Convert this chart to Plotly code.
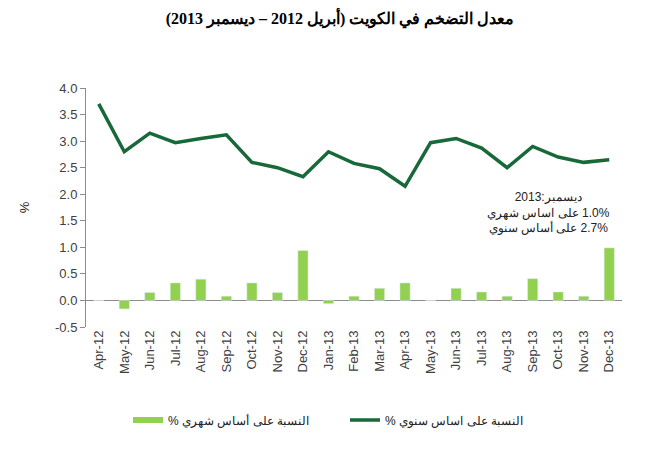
import plotly.graph_objects as go

months = ["Apr-12", "May-12", "Jun-12", "Jul-12", "Aug-12", "Sep-12", "Oct-12",
          "Nov-12", "Dec-12", "Jan-13", "Feb-13", "Mar-13", "Apr-13", "May-13",
          "Jun-13", "Jul-13", "Aug-13", "Sep-13", "Oct-13", "Nov-13", "Dec-13"]
monthly = [0.0, -0.16, 0.15, 0.33, 0.40, 0.08, 0.33, 0.15, 0.94, -0.06, 0.08,
           0.23, 0.33, 0.0, 0.23, 0.16, 0.08, 0.41, 0.16, 0.08, 0.99]
annual = [3.70, 2.80, 3.15, 2.97, 3.05, 3.12, 2.60, 2.50, 2.33, 2.80, 2.58,
          2.48, 2.15, 2.97, 3.05, 2.87, 2.50, 2.90, 2.70, 2.60, 2.65]
y_ticks = [-0.5, 0.0, 0.5, 1.0, 1.5, 2.0, 2.5, 3.0, 3.5, 4.0]
y_tick_labels = ["-0.5", "0.0", "0.5", "1.0", "1.5", "2.0", "2.5", "3.0", "3.5", "4.0"]

LRM = "\u200E"

name_monthly = "% النسبة على أساس شهري"
name_annual = "% النسبة على اساس سنوي"
title_text = "معدل التضخم في الكويت (أبريل 2012 – ديسمبر 2013)"
note_lines = [
    "ديسمبر:2013",
    "على اساس شهري" + LRM + " 1.0%",
    "على أساس سنوي" + LRM + " 2.7%",
]

bar_color = "#92D050"
line_color = "#17693A"
txt_color = "#404040"

fig = go.Figure()
fig.add_trace(go.Bar(x=months, y=monthly, marker_color=bar_color, showlegend=False,
                     name=name_monthly))
fig.add_trace(go.Scatter(x=[None], y=[None], mode="lines", name=name_monthly,
                         line=dict(color=bar_color, width=6)))
fig.add_trace(go.Scatter(x=months, y=annual, mode="lines", name=name_annual,
                         line=dict(color=line_color, width=3.5)))

fig.add_annotation(text="<br>".join(note_lines), xref="paper", yref="paper",
                   x=(612 - 86) / 536, y=1 - (212 - 88) / 239, showarrow=False,
                   align="center", font=dict(family="Liberation Sans", size=12, color="#222"))

fig.update_layout(
    width=647, height=450,
    margin=dict(l=86, r=25, t=88, b=123),
    paper_bgcolor="white", plot_bgcolor="white",
    bargap=0.6,
    title=dict(text="<b>" + title_text + "</b>", x=340 / 647, xanchor="center",
               y=1 - 18 / 450, yanchor="middle",
               font=dict(family="Liberation Serif", size=16, color="black")),
    legend=dict(orientation="h", xref="container", yref="container",
                x=128 / 647, y=1 - 420 / 450, xanchor="left", yanchor="middle",
                font=dict(family="Liberation Sans", size=12, color="#222"),
                entrywidth=172, entrywidthmode="pixels"),
    font=dict(family="Liberation Sans", color=txt_color),
)
fig.update_xaxes(type="category", tickangle=-90, showline=False, ticks="",
                 tickfont=dict(size=13, color=txt_color), showgrid=False,
                 range=[-0.5, 20.5])
fig.update_yaxes(range=[-0.5, 4.0], tickvals=y_ticks, ticktext=y_tick_labels, showgrid=False,
                 showline=True, linecolor="#8c8c8c", linewidth=1, ticks="outside",
                 ticklen=5, tickcolor="#8c8c8c", zeroline=True, zerolinecolor="#8c8c8c",
                 zerolinewidth=1, tickfont=dict(size=13, color=txt_color),
                 title=dict(text="%", standoff=22, font=dict(size=13, color="#222")))

fig.write_html("out.html")
